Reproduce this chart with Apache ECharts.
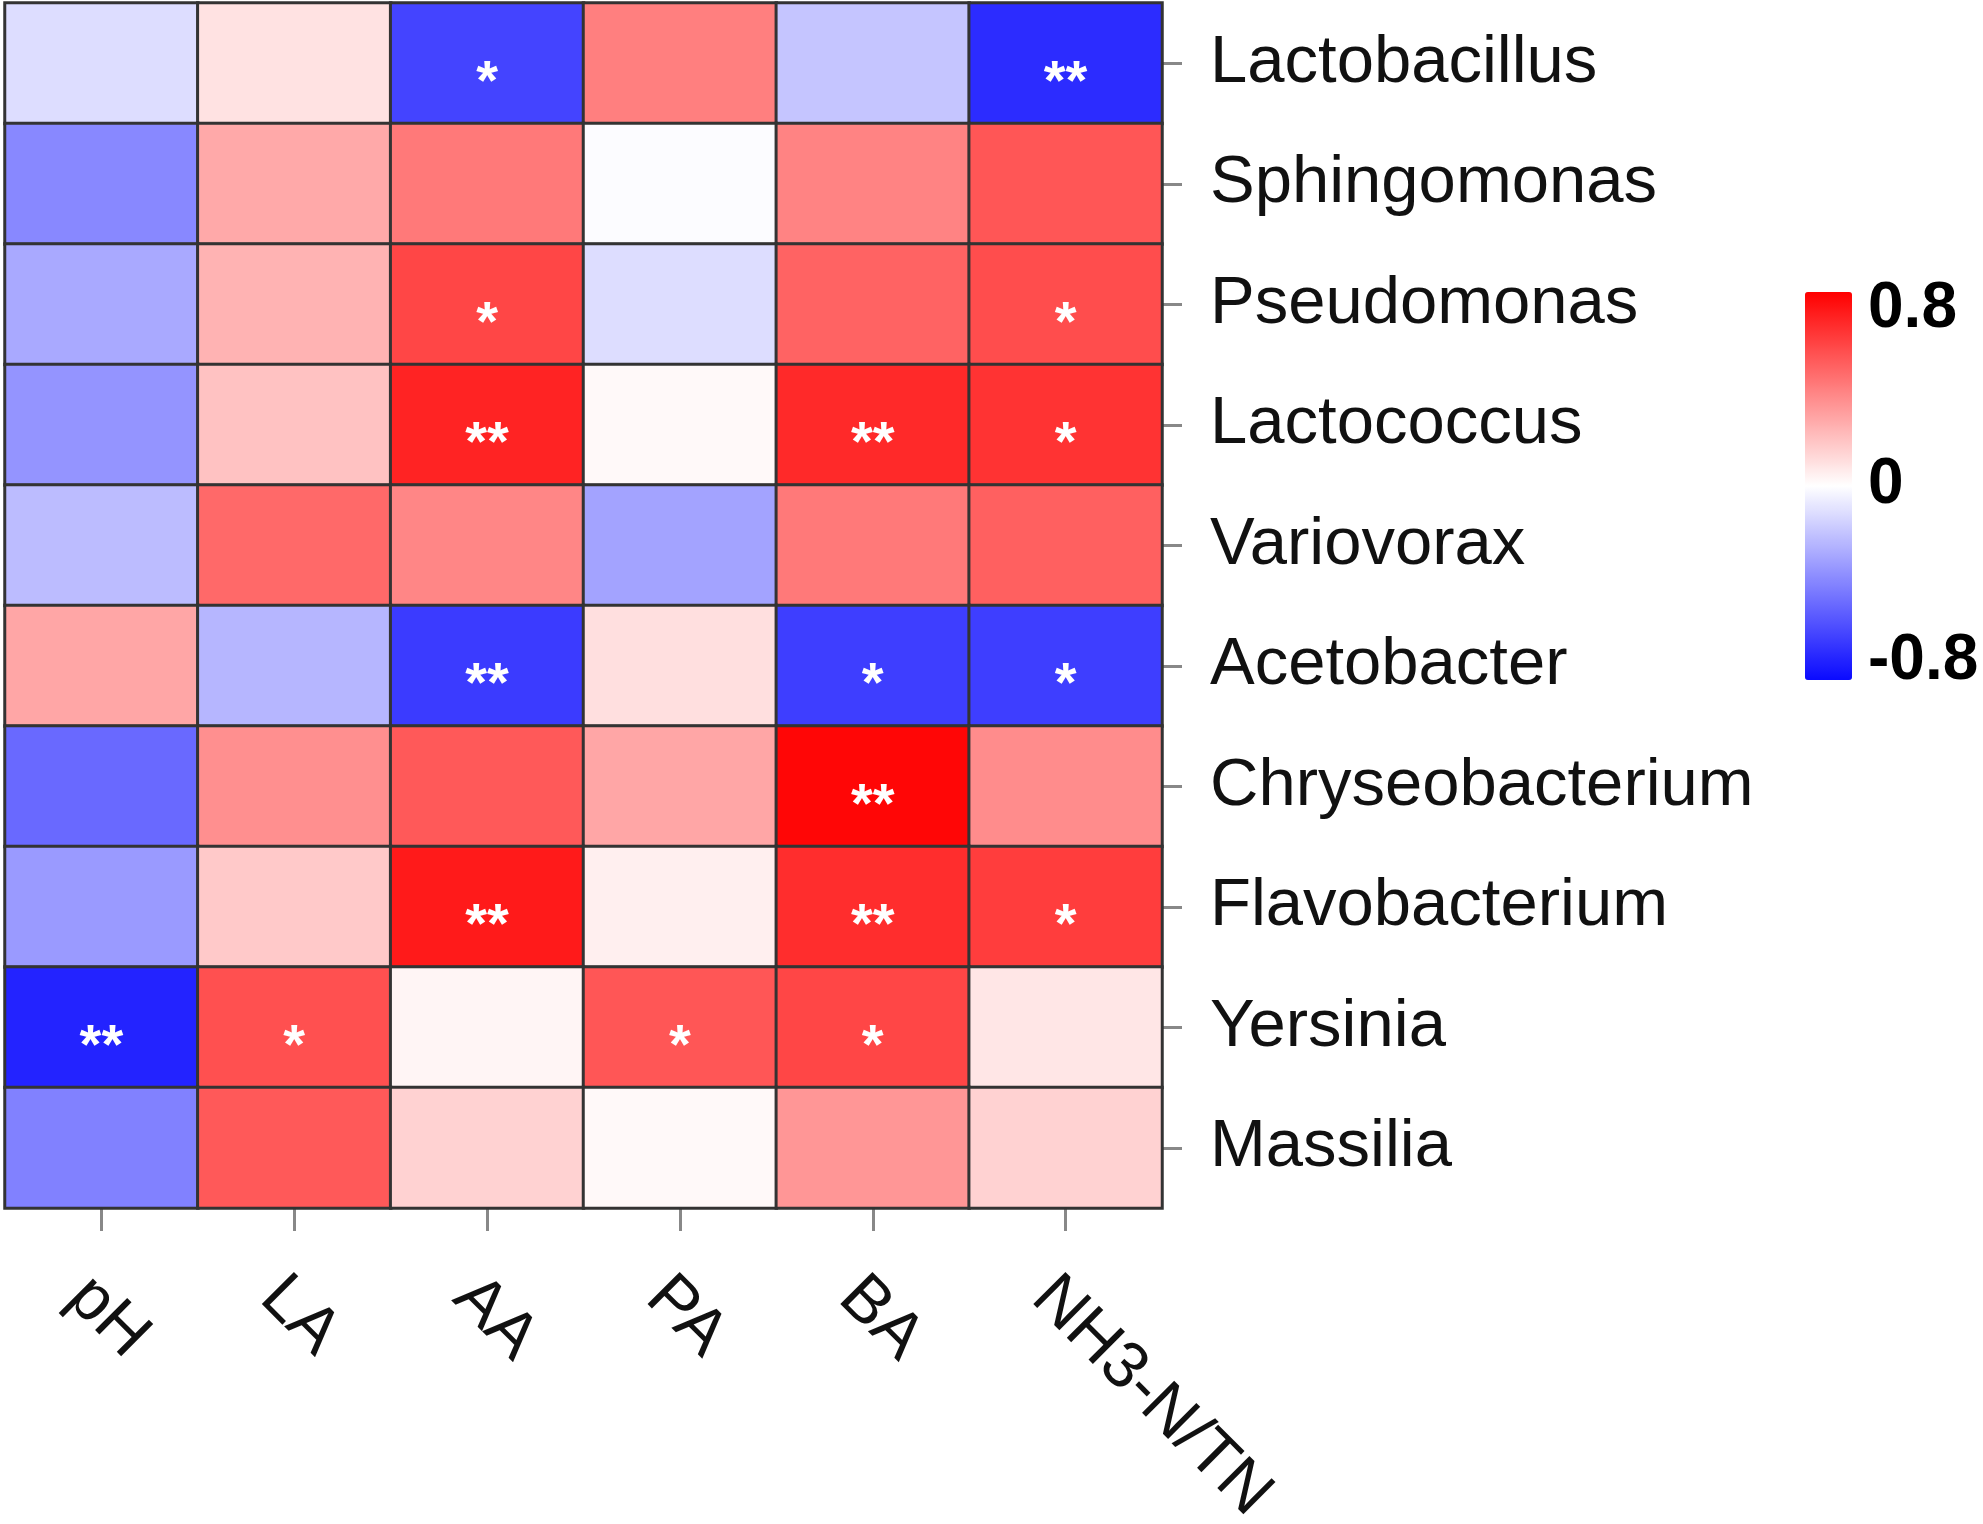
<!DOCTYPE html>
<html>
<head>
<meta charset="utf-8">
<title>Correlation heatmap</title>
<script src="https://cdn.jsdelivr.net/npm/echarts@6/dist/echarts.min.js"></script>
<style>
  html, body { margin: 0; padding: 0; background: #fff; }
  #main { width: 1983px; height: 1524px; }
</style>
</head>
<body>
<div id="main"></div>
<script>
// factors along the bottom
var factors = ['pH', 'LA', 'AA', 'PA', 'BA', 'NH3-N/TN'];
// genera, top to bottom
var genera = ['Lactobacillus', 'Sphingomonas', 'Pseudomonas', 'Lactococcus', 'Variovorax',
  'Acetobacter', 'Chryseobacterium', 'Flavobacterium', 'Yersinia', 'Massilia'];

// correlation values, one row per genus
var lactobacillus    = [-0.11,  0.09, -0.61,  0.40, -0.19, -0.69];
var sphingomonas     = [-0.39,  0.27,  0.42, -0.01,  0.39,  0.53];
var pseudomonas      = [-0.28,  0.24,  0.58, -0.11,  0.49,  0.56];
var lactococcus      = [-0.35,  0.19,  0.69,  0.02,  0.67,  0.64];
var variovorax       = [-0.22,  0.47,  0.38, -0.30,  0.42,  0.50];
var acetobacter      = [ 0.28, -0.24, -0.64,  0.10, -0.63, -0.63];
var chryseobacterium = [-0.49,  0.35,  0.52,  0.28,  0.78,  0.36];
var flavobacterium   = [-0.33,  0.17,  0.72,  0.05,  0.66,  0.61];
var yersinia         = [-0.72,  0.55,  0.03,  0.53,  0.58,  0.08];
var massilia         = [-0.41,  0.52,  0.14,  0.02,  0.33,  0.14];

// significance marks
var sigLactobacillus    = ['', '', '*', '', '', '**'];
var sigSphingomonas     = ['', '', '', '', '', ''];
var sigPseudomonas      = ['', '', '*', '', '', '*'];
var sigLactococcus      = ['', '', '**', '', '**', '*'];
var sigVariovorax       = ['', '', '', '', '', ''];
var sigAcetobacter      = ['', '', '**', '', '*', '*'];
var sigChryseobacterium = ['', '', '', '', '**', ''];
var sigFlavobacterium   = ['', '', '**', '', '**', '*'];
var sigYersinia         = ['**', '*', '', '*', '*', ''];
var sigMassilia         = ['', '', '', '', '', ''];

// colour scale range and its tick labels
var scaleMin = -0.8;
var scaleMax = 0.8;
var scaleTicks = ['-0.8', '0', '0.8'];

var valueRows = [lactobacillus, sphingomonas, pseudomonas, lactococcus, variovorax,
  acetobacter, chryseobacterium, flavobacterium, yersinia, massilia];
var sigRows = [sigLactobacillus, sigSphingomonas, sigPseudomonas, sigLactococcus, sigVariovorax,
  sigAcetobacter, sigChryseobacterium, sigFlavobacterium, sigYersinia, sigMassilia];

var cells = [];
for (var r = 0; r < genera.length; r++) {
  for (var c = 0; c < factors.length; c++) {
    cells.push({ value: [c, r, valueRows[r][c]], sig: sigRows[r][c] });
  }
}

var font = '"Liberation Sans", Arial, sans-serif';

var chart = echarts.init(document.getElementById('main'));
chart.setOption({
  backgroundColor: '#ffffff',
  animation: false,
  grid: [
    { left: 5, top: 3, width: 1157, height: 1205, outerBoundsMode: 'none', containLabel: false },
    { left: 1805, top: 309, width: 47, height: 352, outerBoundsMode: 'none', containLabel: false }
  ],
  xAxis: [
    {
      type: 'category',
      data: factors,
      gridIndex: 0,
      position: 'bottom',
      axisLine: { show: false },
      axisTick: { show: true, alignWithLabel: true, length: 23, lineStyle: { color: '#888', width: 3 } },
      axisLabel: { rotate: -45, margin: 56, verticalAlign: 'top', fontSize: 66, color: '#111', fontFamily: font, interval: 0 },
      splitLine: { show: false }
    },
    { type: 'value', gridIndex: 1, show: false }
  ],
  yAxis: [
    {
      type: 'category',
      data: genera,
      gridIndex: 0,
      inverse: true,
      position: 'right',
      axisLine: { show: false },
      axisTick: { show: true, alignWithLabel: true, length: 20, lineStyle: { color: '#888', width: 3 } },
      axisLabel: { margin: 48, fontSize: 67, color: '#111', fontFamily: font, interval: 0 },
      splitLine: { show: false }
    },
    {
      type: 'value',
      gridIndex: 1,
      position: 'right',
      min: scaleMin,
      max: scaleMax,
      interval: 0.8,
      axisLine: { show: false },
      axisTick: { show: false },
      splitLine: { show: false },
      axisLabel: {
        margin: 16,
        fontSize: 64,
        fontWeight: 'bold',
        color: '#000',
        fontFamily: font,
        formatter: function (v) {
          var i = Math.round((v - scaleMin) / 0.8);
          return scaleTicks[i];
        }
      }
    }
  ],
  visualMap: {
    type: 'continuous',
    seriesIndex: 0,
    min: scaleMin,
    max: scaleMax,
    calculable: false,
    orient: 'vertical',
    left: 1805,
    top: 292,
    padding: 0,
    itemWidth: 47,
    itemHeight: 388,
    text: null,
    inRange: { color: ['#0a0aff', '#ffffff', '#ff0000'] }
  },
  series: [{
    type: 'heatmap',
    xAxisIndex: 0,
    yAxisIndex: 0,
    data: cells,
    itemStyle: { borderColor: '#333', borderWidth: 3 },
    label: {
      show: true,
      color: '#ffffff',
      fontSize: 56,
      fontWeight: 'bold',
      fontFamily: font,
      offset: [0, 20],
      formatter: function (p) { return p.data.sig; }
    },
    emphasis: { disabled: true }
  }]
});
</script>
</body>
</html>
